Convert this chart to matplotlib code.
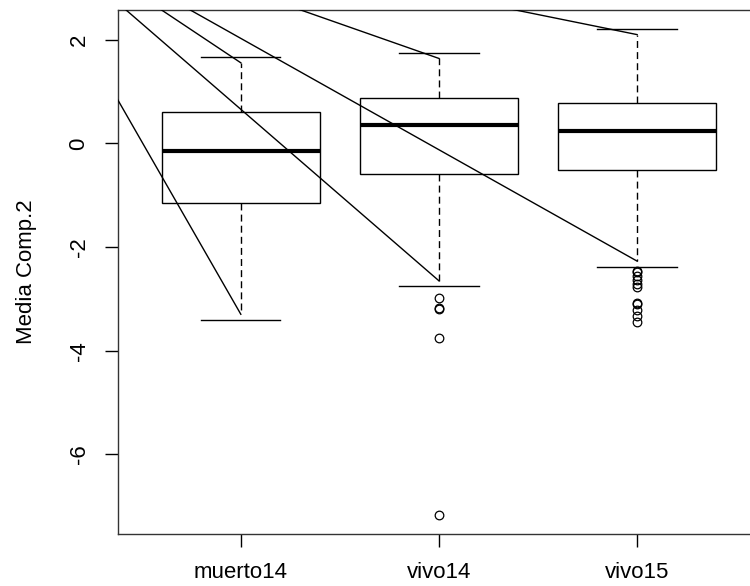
import matplotlib
matplotlib.use("Agg")
import matplotlib.pyplot as plt
from matplotlib.patches import Rectangle

plt.rcParams['font.family'] = ['Liberation Sans', 'DejaVu Sans']

groups = ["muerto14", "vivo14", "vivo15"]
q1 = [-1.147, -0.587, -0.51]
median = [-0.143, 0.347, 0.243]
q3 = [0.61, 0.88, 0.772]
whisker_low = [-3.40, -2.755, -2.39]
whisker_high = [1.66, 1.749, 2.20]
# dashed whisker stems stop a little short of the caps
stem_low = [-3.295, -2.65, -2.27]
stem_high = [1.556, 1.64, 2.10]
outliers = [
    [],
    [-2.99, -3.17, -3.20, -3.75, -7.16],
    [-2.455, -2.485, -2.56, -2.64, -2.72, -2.77, -3.08, -3.10, -3.22, -3.33, -3.44],
]
# stray strokes that all run from one point outside the plot to the stem tips
ray_origin_x = -0.179
ray_origin_y = 4.56
y_ticks = [-6, -4, -2, 0, 2]
y_label = "Media Comp.2"

box_width = 0.8
cap_width = 0.4
fs = 16

fig = plt.figure(figsize=(7.5, 5.86), dpi=100)

# the full plot region would run slightly past the right edge of the canvas;
# the axes are cut at the canvas edge and the x range trimmed to match
ax_left, ax_bottom, ax_height = 0.1573, 0.0887, 0.8942
full_width = 0.856
ax_width = 1.0 - ax_left
ax = fig.add_axes([ax_left, ax_bottom, ax_width, ax_height])

positions = [i + 1 for i in range(len(groups))]

# R-style limits: 4% padding around the data range
all_vals = whisker_low + whisker_high + [v for o in outliers for v in o]
lo, hi = min(all_vals), max(all_vals)
pad = 0.04 * (hi - lo)
ax.set_ylim(lo - pad, hi + pad)
xlo, xhi = 0.5, len(groups) + 0.5
xpad = 0.04 * (xhi - xlo)
x0, x1 = xlo - xpad, xhi + xpad
ax.set_xlim(x0, x0 + (x1 - x0) * ax_width / full_width)

for i, x in enumerate(positions):
    half = box_width / 2
    ax.add_patch(Rectangle((x - half, q1[i]), box_width, q3[i] - q1[i],
                           facecolor='white', edgecolor='black', lw=1.0, zorder=2))
    ax.plot([x - half, x + half], [median[i], median[i]], color='black',
            lw=3.0, solid_capstyle='butt', zorder=3)
    ax.plot([x, x], [q1[i], stem_low[i]], color='black', lw=1.0,
            linestyle=(0, (5, 3)), zorder=2)
    ax.plot([x, x], [q3[i], stem_high[i]], color='black', lw=1.0,
            linestyle=(0, (5, 3)), zorder=2)
    ch = cap_width / 2
    for w in (whisker_low[i], whisker_high[i]):
        ax.plot([x - ch, x + ch], [w, w], color='black', lw=1.0, zorder=2)
    if outliers[i]:
        ax.plot([x] * len(outliers[i]), outliers[i], linestyle='none', marker='o',
                mfc='none', mec='black', ms=6.2, mew=0.9, zorder=4)
    for tip in (stem_low[i], stem_high[i]):
        ax.plot([ray_origin_x, x], [ray_origin_y, tip], color='black', lw=1.0, zorder=5)

ax.set_xticks(positions)
ax.set_xticklabels(groups, fontsize=fs)
ax.set_yticks(y_ticks)
ax.set_yticklabels([str(t) for t in y_ticks], fontsize=fs, rotation=90, va='center')
ax.tick_params(axis='both', length=9.5, width=1.0, colors='black', direction='out')
ax.tick_params(axis='y', pad=11)
ax.tick_params(axis='x', pad=11)
ax.set_ylabel(y_label, fontsize=fs, labelpad=23)
for s in ax.spines.values():
    s.set_linewidth(1.0)
    s.set_color('#333333')
ax.spines['right'].set_visible(False)

fig.savefig("out.png", dpi=100)
